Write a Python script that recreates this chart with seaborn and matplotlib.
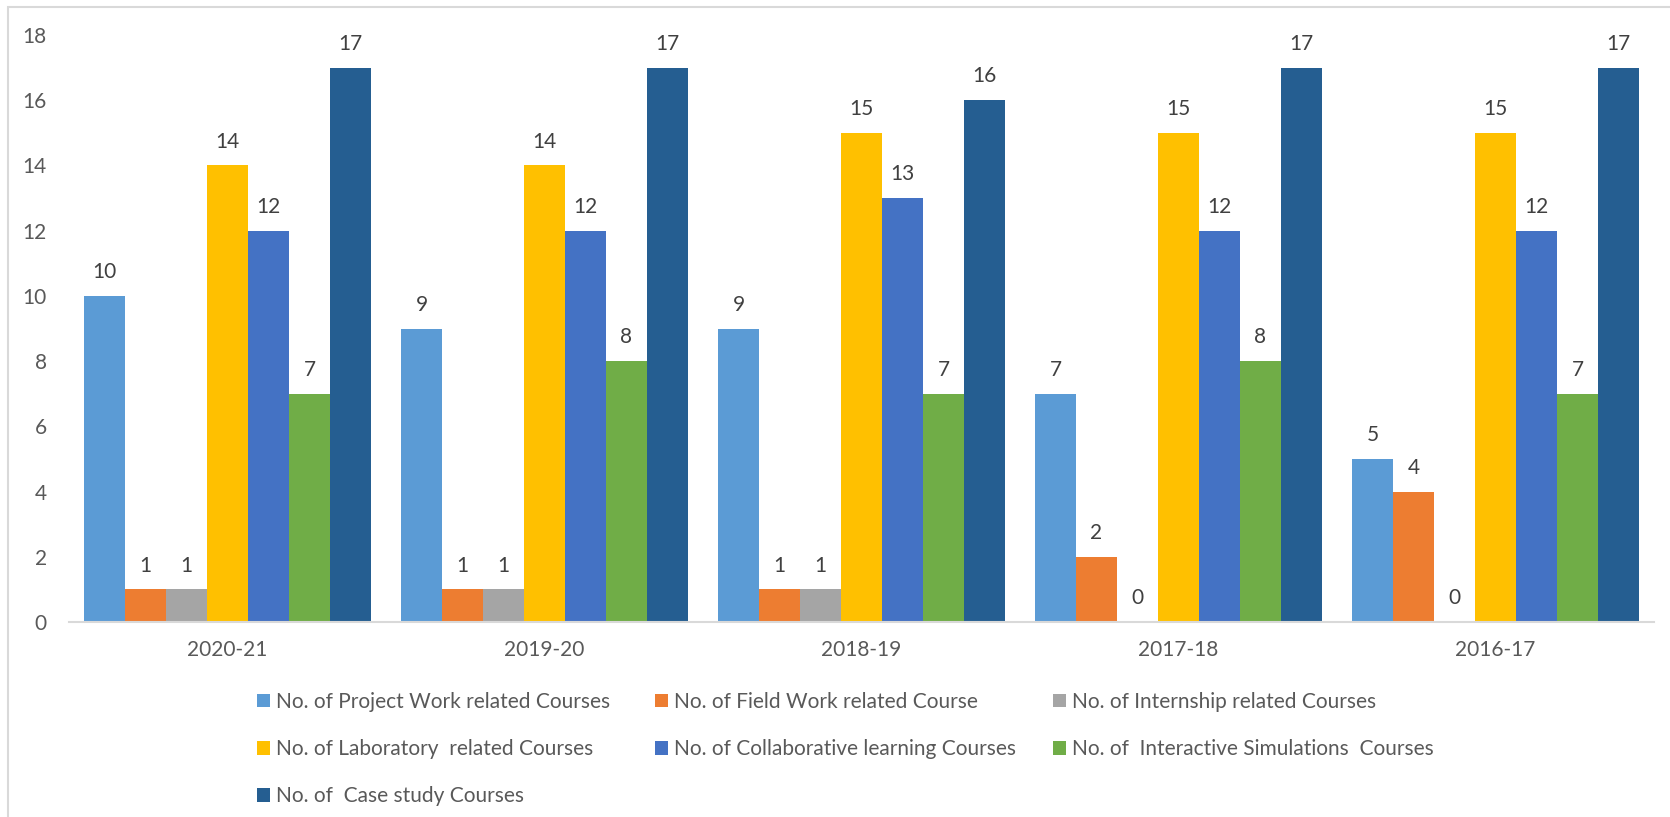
import pandas as pd
import matplotlib.pyplot as plt
import seaborn as sns
from matplotlib.patches import Rectangle

# Chart data
years = ['2020-21', '2019-20', '2018-19', '2017-18', '2016-17']
series = [
    'No. of Project Work related Courses',
    'No. of Field Work related Course',
    'No. of Internship related Courses',
    'No. of Laboratory  related Courses',
    'No. of Collaborative learning Courses',
    'No. of  Interactive Simulations  Courses',
    'No. of  Case study Courses',
]
project_work = [10, 9, 9, 7, 5]
field_work = [1, 1, 1, 2, 4]
internship = [1, 1, 1, 0, 0]
laboratory = [14, 14, 15, 15, 15]
collaborative = [12, 12, 13, 12, 12]
simulations = [7, 8, 7, 8, 7]
case_study = [17, 17, 16, 17, 17]
yticks = [0, 2, 4, 6, 8, 10, 12, 14, 16, 18]

colors = ['#5B9BD5', '#ED7D31', '#A5A5A5', '#FFC000', '#4472C4', '#70AD47', '#255E91']

values = [project_work, field_work, internship, laboratory, collaborative, simulations, case_study]
rows = []
for name, vals in zip(series, values):
    for yr, v in zip(years, vals):
        rows.append({'year': yr, 'series': name, 'count': v})
df = pd.DataFrame(rows)

sns.set_style('white')
plt.rcParams['font.family'] = ['Lato', 'DejaVu Sans']
text_color = '#595959'

fig = plt.figure(figsize=(16.7, 8.17), dpi=100)
ax = fig.add_axes([69 / 1670, 1 - 622 / 817, (1654 - 69) / 1670, (622 - 35) / 817])

sns.barplot(data=df, x='year', y='count', hue='series', order=years, hue_order=series,
            palette=dict(zip(series, colors)), width=0.905, gap=0, linewidth=0,
            saturation=1, ax=ax)

for cont in ax.containers:
    ax.bar_label(cont, fmt='%d', padding=10, fontsize=15, color='#404040')

ax.set_xlim(-0.5, 4.5)
ax.set_ylim(0, 18)
ax.set_yticks(yticks)
ax.set_xlabel('')
ax.set_ylabel('')
ax.tick_params(axis='both', length=0, labelsize=15, labelcolor=text_color)
ax.tick_params(axis='y', pad=16)
ax.tick_params(axis='x', pad=13)
for side in ['top', 'right', 'left']:
    ax.spines[side].set_visible(False)
ax.spines['bottom'].set_color('#D9D9D9')
ax.spines['bottom'].set_linewidth(1.5)

handles, labels = ax.get_legend_handles_labels()
ax.legend_.remove()

# Excel-style legend: row-wise order, fixed column widths
col_x = [257 / 1670, 655 / 1670, 1053 / 1670]
for c in range(3):
    leg = fig.legend(handles[c::3], labels[c::3], loc='upper left',
                     bbox_to_anchor=(col_x[c], 1 - 692 / 817), frameon=False,
                     fontsize=15, borderpad=0, borderaxespad=0,
                     handlelength=0.62, handleheight=0.62, handletextpad=0.3,
                     labelspacing=1.3, labelcolor=text_color)

# chart frame
fig.patches.append(Rectangle((8 / 1670, -0.05), 1.1, 1.05 - 7 / 817, transform=fig.transFigure,
                             fill=False, edgecolor='#D9D9D9', linewidth=1.5))

fig.savefig('out.png', dpi=100)
